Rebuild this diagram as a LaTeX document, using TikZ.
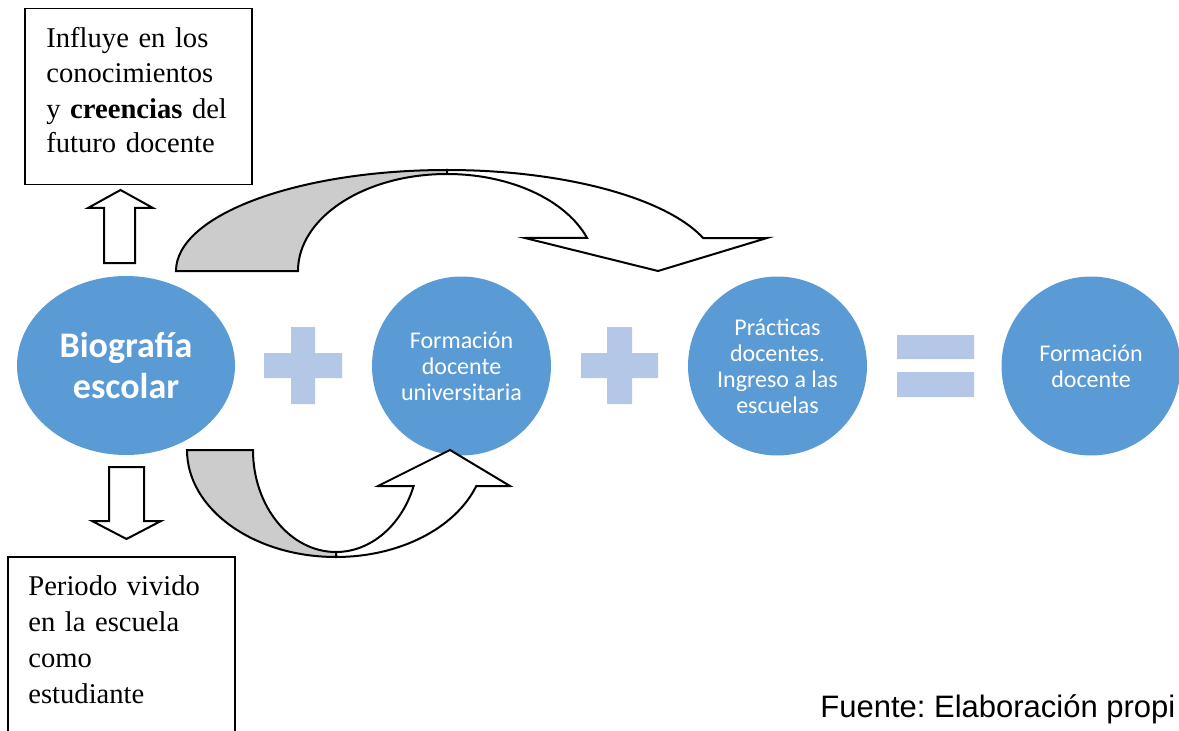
\documentclass[tikz,border=0pt]{standalone}
\usepackage{fontspec}
\setmainfont{Liberation Serif}
\newfontfamily\calibrifont{Carlito}
\newfontfamily\arialfont{Liberation Sans}
\usetikzlibrary{shapes.geometric}
\definecolor{circblue}{RGB}{91,155,213}
\definecolor{signblue}{RGB}{180,199,231}
\definecolor{backgrey}{RGB}{204,204,204}
\frenchspacing
\begin{document}
\begin{tikzpicture}[x=0.5pt,y=0.5pt,
  bubble/.style={circle, fill=circblue, draw=none, minimum size=89.5pt, inner sep=0pt,
    text=white, align=center, font={\calibrifont\fontsize{12pt}{13pt}\selectfont}},
  blockarrow/.style={draw=black, line width=1pt, fill=white, line join=miter},
  backband/.style={blockarrow, fill=backgrey},
  textbox/.style={draw=black, line width=0.75pt, inner sep=0pt},
  boxtext/.style={anchor=base west, inner sep=0pt, text width=100pt, align=left},
  sign/.style={fill=signblue}]
\useasboundingbox (0,0) rectangle (1179,730);

% circles
\node[ellipse, fill=circblue, minimum width=109pt, minimum height=89.5pt, inner sep=0pt,
  text=white, align=center, font={\calibrifont\bfseries\fontsize{18pt}{20.5pt}\selectfont}]
  (bio) at (126,364.5) {Biografía\\escolar};
\node[bubble] (fdu) at (461.5,364) {Formación\\docente\\universitaria};
\node[bubble] (prac) at (777.5,364) {Prácticas\\docentes.\\Ingreso a las\\escuelas};
\node[bubble] (fd) at (1091,364) {Formación\\docente};

% plus and equal signs
\fill[sign] (264,352) rectangle (342,377) (291,326) rectangle (315,403);
\fill[sign] (581,352) rectangle (658,377) (607,326) rectangle (632,403);
\fill[sign] (897,371) rectangle (974,395) (897,333) rectangle (974,358);

% top text box
\node[textbox, minimum width=113.5pt, minimum height=88pt, anchor=north west] (boxA) at (24,722) {};
\node[boxtext, font={\fontsize{14.3pt}{17.5pt}\selectfont}] (txtA) at (46,682)
  {Influye en los\\conocimientos\\y \textbf{creencias} del\\futuro docente};

% bottom text box (open at the bottom edge)
\coordinate (bBL) at (8,-2);
\coordinate (bTL) at (8,173);
\coordinate (bTR) at (235,173);
\coordinate (bBR) at (235,-2);
\draw[line width=0.75pt] (bBL) -- (bTL) -- (bTR) -- (bBR);
\node[boxtext, font={\fontsize{14.3pt}{18pt}\selectfont}] (txtB) at (28,135)
  {Periodo vivido\\en la escuela\\como\\estudiante};

% straight block arrows
\draw[blockarrow] (104,467) -- (104,522) -- (88,522) -- (120.5,540) -- (153,522) -- (135,522) -- (135,467) -- cycle;
\draw[blockarrow] (109,263) -- (109,209) -- (92,209) -- (126.5,191) -- (161,209) -- (144,209) -- (144,263) -- cycle;

% top curved arrow
\draw[blockarrow] (447,560) arc[start angle=90, end angle=19, x radius=271, y radius=101]
  -- (767,492) -- (658,459) -- (525,492) -- (587.0,492.18)
  arc[start angle=20, end angle=90, x radius=149, y radius=97] -- cycle;
\draw[backband] (176,459) arc[start angle=180, end angle=90, x radius=271, y radius=101]
  -- (447,556) arc[start angle=90, end angle=180, x radius=149, y radius=97] -- cycle;

% bottom curved arrow
\draw[blockarrow] (336,173) arc[start angle=270, end angle=340.3, x radius=149, y radius=107]
  -- (510,244) -- (450,280) -- (378,244) -- (413.65,243.94)
  arc[start angle=339.3, end angle=270, x radius=83, y radius=102] -- cycle;
\draw[backband] (187,280) arc[start angle=180, end angle=270, x radius=149, y radius=107]
  -- (336,178) arc[start angle=270, end angle=180, x radius=83, y radius=102] -- cycle;

% source
\node[anchor=base west, inner sep=0pt, font={\arialfont\fontsize{15.5pt}{18pt}\selectfont}]
  (src) at (820,13) {Fuente: Elaboración propi};
\end{tikzpicture}
\end{document}
